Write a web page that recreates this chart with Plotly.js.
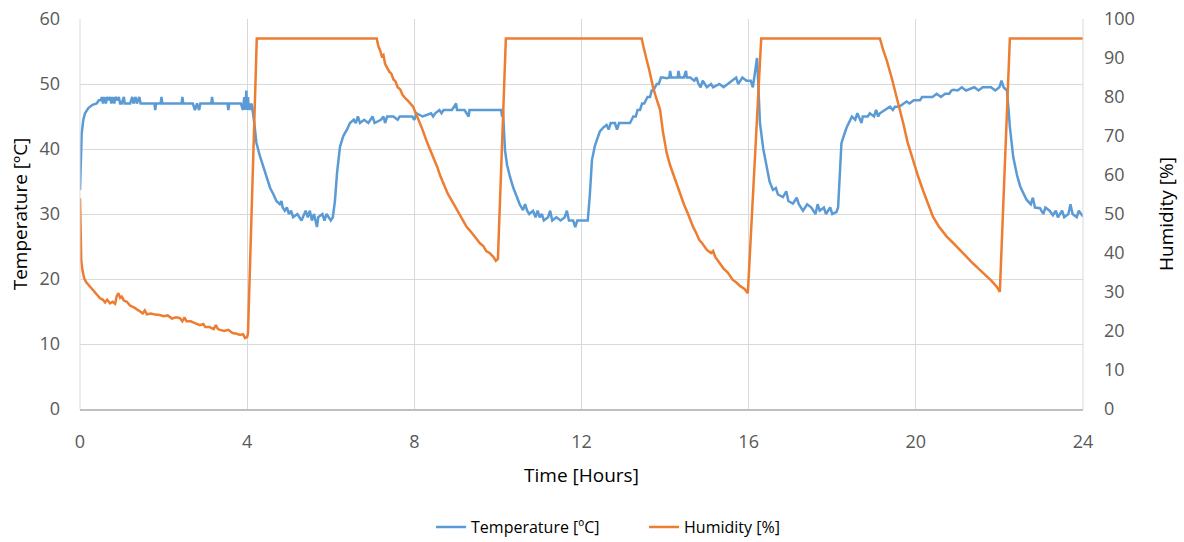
<!DOCTYPE html>
<html>
<head>
<meta charset="utf-8">
<script src="https://cdn.plot.ly/plotly-3.0.1.min.js"></script>
<style>html,body{margin:0;padding:0;background:#fff;}#chart{width:1184px;height:542px;}</style>
</head>
<body>
<div id="chart"></div>
<script>
// Temperature [ºC] vs time [hours]
const tempTime = [0.00,0.02,0.04,0.08,0.12,0.20,0.30,0.40,0.45,0.50,0.52,0.55,0.58,0.62,0.65,0.68,0.72,0.75,0.78,0.82,0.85,0.90,0.93,0.96,1.00,1.05,1.07,1.20,1.25,1.28,1.33,1.36,1.42,1.45,1.60,1.78,1.80,1.82,1.93,1.95,1.97,2.20,2.43,2.45,2.47,2.70,2.75,2.80,2.85,2.88,3.10,3.14,3.16,3.18,3.50,3.53,3.55,3.57,3.85,3.90,3.93,3.96,3.98,4.00,4.02,4.04,4.06,4.08,4.10,4.12,4.17,4.22,4.30,4.38,4.47,4.55,4.63,4.70,4.78,4.82,4.85,4.90,4.95,5.00,5.05,5.10,5.20,5.30,5.40,5.45,5.50,5.55,5.60,5.67,5.70,5.80,5.85,5.90,6.00,6.05,6.10,6.15,6.22,6.30,6.39,6.46,6.55,6.60,6.65,6.70,6.80,6.90,7.00,7.05,7.20,7.26,7.30,7.35,7.50,7.60,7.65,7.80,7.95,8.00,8.05,8.20,8.40,8.45,8.50,8.60,8.65,8.70,8.80,8.90,9.00,9.02,9.20,9.30,9.32,9.60,9.80,10.00,10.08,10.10,10.12,10.17,10.22,10.29,10.37,10.45,10.52,10.60,10.65,10.70,10.75,10.84,10.90,10.95,11.00,11.05,11.10,11.20,11.25,11.30,11.40,11.50,11.60,11.65,11.70,11.80,11.85,11.90,12.00,12.10,12.15,12.20,12.25,12.32,12.37,12.44,12.52,12.60,12.65,12.70,12.80,12.85,12.90,13.00,13.10,13.16,13.20,13.24,13.30,13.34,13.40,13.45,13.50,13.58,13.64,13.68,13.72,13.76,13.80,13.85,13.90,13.95,14.04,14.10,14.12,14.15,14.30,14.32,14.35,14.45,14.50,14.52,14.60,14.70,14.75,14.80,14.85,14.90,15.00,15.10,15.15,15.30,15.40,15.50,15.60,15.70,15.75,15.85,15.95,16.05,16.10,16.15,16.20,16.23,16.27,16.35,16.43,16.50,16.58,16.65,16.70,16.82,16.90,16.95,17.06,17.15,17.20,17.30,17.40,17.50,17.60,17.65,17.70,17.80,17.85,17.95,18.00,18.10,18.14,18.18,18.22,18.30,18.35,18.47,18.55,18.60,18.70,18.73,18.85,18.90,19.00,19.05,19.10,19.14,19.25,19.38,19.45,19.50,19.60,19.70,19.78,19.85,19.95,20.10,20.15,20.26,20.40,20.50,20.60,20.70,20.80,20.85,20.90,21.00,21.10,21.20,21.40,21.50,21.60,21.80,21.90,22.00,22.05,22.10,22.18,22.22,22.25,22.33,22.42,22.50,22.58,22.65,22.75,22.80,22.85,22.97,23.05,23.10,23.20,23.28,23.35,23.40,23.50,23.55,23.65,23.70,23.75,23.85,23.90,24.00];
const tempVal = [33.7,38.0,42.4,44.5,45.5,46.3,46.8,47.0,47.5,47.5,48.0,47.0,48.0,47.0,48.0,47.5,48.0,47.0,48.0,47.0,48.0,47.5,48.0,47.0,47.0,48.0,47.0,47.0,48.0,47.0,48.0,47.0,48.0,47.0,47.0,47.0,46.0,47.0,47.0,48.0,47.0,47.0,47.0,48.0,47.0,47.0,46.0,47.0,46.0,47.0,47.0,47.0,48.0,47.0,47.0,47.0,46.0,47.0,47.0,46.0,48.0,46.0,49.0,46.0,48.0,46.0,47.0,46.0,47.0,46.5,44.0,41.0,39.0,37.5,35.5,34.0,33.0,32.0,31.5,32.0,31.0,30.5,31.0,30.0,30.5,29.5,30.0,29.0,30.5,29.5,30.5,29.0,30.0,28.0,29.5,30.0,29.0,30.0,29.0,29.5,32.0,36.3,40.3,42.0,43.0,44.0,44.5,44.0,45.0,44.0,44.5,44.0,45.0,44.0,44.5,45.0,44.0,45.0,45.0,44.5,45.0,45.0,45.0,44.5,45.5,45.0,45.5,45.0,45.5,46.0,45.5,46.0,46.0,46.0,47.0,46.0,46.0,45.0,46.0,46.0,46.0,46.0,46.0,45.0,46.0,39.8,37.5,35.7,34.0,32.7,31.5,30.6,31.5,30.5,30.0,30.5,29.5,30.5,29.5,30.0,29.0,29.5,30.5,29.0,29.5,29.0,29.5,30.5,29.0,29.0,28.0,29.0,29.0,29.0,29.0,33.0,38.3,40.5,41.4,42.7,43.3,43.7,43.0,44.0,44.0,43.0,44.0,44.0,44.0,44.0,44.5,45.0,45.0,46.0,46.0,47.0,47.0,48.0,48.0,49.0,49.0,49.5,50.0,50.0,51.0,51.0,50.9,51.0,52.0,51.0,51.0,52.0,51.0,51.0,52.0,51.0,51.0,50.5,51.0,50.0,49.5,50.5,49.5,50.0,49.5,50.0,49.5,50.0,50.5,51.0,50.0,51.0,50.5,50.5,49.5,52.0,54.0,50.0,44.0,40.0,37.3,35.0,33.7,34.0,33.0,32.6,33.5,32.0,31.6,32.5,31.5,30.5,31.5,31.0,30.0,31.5,30.5,31.0,30.0,31.0,30.0,30.3,31.0,37.0,40.9,42.5,43.4,45.0,44.5,45.5,44.0,45.0,45.0,45.5,45.0,46.0,45.0,45.5,46.0,46.5,46.0,46.5,46.5,47.0,47.3,47.0,47.5,47.5,48.0,48.0,48.0,48.5,48.0,48.5,48.5,49.0,49.1,49.0,49.5,49.0,49.5,49.0,49.5,49.5,49.0,49.5,50.5,49.5,49.0,46.0,43.4,38.8,36.0,34.2,33.0,32.2,31.5,32.5,31.0,30.9,30.0,31.0,30.5,29.8,30.5,29.5,30.5,29.5,30.0,31.5,30.0,29.5,30.5,29.6];

// Humidity [%] vs time [hours]
const humTime = [0.00,0.01,0.03,0.06,0.10,0.15,0.24,0.30,0.40,0.48,0.55,0.60,0.65,0.72,0.78,0.84,0.88,0.92,0.96,1.00,1.05,1.12,1.20,1.30,1.44,1.50,1.55,1.60,1.70,1.80,1.91,2.00,2.10,2.20,2.30,2.39,2.45,2.50,2.55,2.65,2.75,2.87,2.95,3.00,3.10,3.20,3.25,3.30,3.35,3.45,3.55,3.65,3.75,3.83,3.90,3.95,4.00,4.02,4.23,7.10,7.14,7.18,7.22,7.26,7.30,7.34,7.40,7.45,7.50,7.55,7.60,7.66,7.72,7.80,7.85,7.97,8.05,8.13,8.20,8.30,8.38,8.45,8.55,8.62,8.69,8.80,8.93,9.05,9.15,9.25,9.35,9.45,9.57,9.65,9.72,9.80,9.89,9.95,10.00,10.19,13.44,13.48,13.52,13.56,13.62,13.67,13.71,13.78,13.83,13.88,13.95,14.04,14.12,14.20,14.28,14.35,14.45,14.55,14.60,14.67,14.75,14.82,14.90,15.00,15.10,15.15,15.20,15.31,15.40,15.50,15.62,15.70,15.80,15.90,15.98,16.30,19.14,19.22,19.30,19.42,19.54,19.62,19.70,19.80,19.93,20.05,20.17,20.30,20.41,20.55,20.65,20.74,20.90,21.05,21.20,21.37,21.50,21.60,21.70,21.80,21.94,22.01,22.25,24.00];
const humVal = [54.0,45.0,38.0,35.5,33.5,32.5,31.3,30.5,29.3,28.4,28.0,27.3,28.0,27.1,27.5,27.0,29.0,29.7,28.5,28.8,27.8,27.5,26.5,26.0,25.0,24.5,25.3,24.3,24.5,24.2,24.1,23.8,24.0,23.2,23.5,23.3,22.5,23.5,22.5,22.5,22.0,21.5,21.8,21.0,21.0,20.5,21.5,20.5,20.3,20.0,20.3,19.5,19.3,19.0,19.2,18.2,18.5,19.5,95.0,95.0,93.0,92.0,90.5,90.8,88.5,87.8,86.5,86.0,84.5,84.0,82.5,82.0,80.5,79.5,79.0,77.5,75.5,73.3,71.5,68.5,66.5,64.6,62.0,59.8,57.9,55.2,52.8,50.5,48.5,46.7,45.5,44.0,42.5,41.8,40.5,40.0,39.0,38.0,38.5,95.0,95.0,93.0,91.5,89.5,87.0,84.5,82.6,80.0,78.0,76.7,71.0,65.6,62.5,60.0,57.5,55.3,52.5,50.0,48.5,46.7,45.0,43.3,42.3,40.8,40.0,40.5,39.0,37.4,36.0,35.0,33.1,32.5,31.5,30.8,29.7,95.0,95.0,92.0,89.5,85.0,80.1,77.0,73.2,68.5,63.8,59.8,56.1,52.5,49.3,46.8,45.5,44.2,42.5,40.8,39.0,37.3,36.0,35.0,33.9,33.0,31.3,30.0,95.0,95.0];

const xTicks = [0,4,8,12,16,20,24];
const tempTicks = [0,10,20,30,40,50,60];
const humTicks = [0,10,20,30,40,50,60,70,80,90,100];

const FONT = "'Open Sans', 'Noto Sans', sans-serif";
const tickFont = {family: FONT, size: 18, color: '#595959'};
const titleFont = {family: FONT, size: 19, color: '#000000'};

const traces = [
  {x: tempTime, y: tempVal, name: 'Temperature [ºC]', type: 'scatter', mode: 'lines',
   line: {color: '#5b9bd5', width: 2.5}, yaxis: 'y'},
  {x: humTime, y: humVal, name: 'Humidity [%]', type: 'scatter', mode: 'lines',
   line: {color: '#ed7d31', width: 2.5}, yaxis: 'y2'}
];

const layout = {
  width: 1184, height: 542,
  margin: {l: 80, r: 101, t: 19, b: 133, autoexpand: false},
  paper_bgcolor: '#ffffff', plot_bgcolor: '#ffffff',
  font: {family: FONT, color: '#595959'},
  xaxis: {
    range: [0, 24], tickvals: xTicks, ticktext: xTicks.map(String),
    showgrid: true, gridcolor: '#d9d9d9', gridwidth: 1,
    zeroline: false, showline: true, linecolor: '#bfbfbf', linewidth: 1.5,
    ticks: '', tickfont: tickFont, ticklabelstandoff: 16,
    title: {text: 'Time [Hours]', font: titleFont, standoff: 16},
    automargin: false, fixedrange: true
  },
  yaxis: {
    range: [0, 60], tickvals: tempTicks, ticktext: tempTicks.map(String),
    showgrid: true, gridcolor: '#d9d9d9', gridwidth: 1,
    zeroline: false, showline: false,
    ticks: '', tickfont: tickFont, ticklabelstandoff: 19,
    title: {text: 'Temperature [ºC]', font: titleFont, standoff: 6},
    automargin: false, fixedrange: true
  },
  yaxis2: {
    range: [0, 100], tickvals: humTicks, ticktext: humTicks.map(String),
    overlaying: 'y', side: 'right', showgrid: false,
    zeroline: false, showline: false,
    ticks: '', tickfont: tickFont, ticklabelstandoff: 20,
    title: {text: 'Humidity [%]', font: titleFont, standoff: 25},
    automargin: false, fixedrange: true
  },
  shapes: [
    {type: 'line', xref: 'paper', yref: 'paper', x0: 0, x1: 0, y0: 0, y1: 1, line: {color: '#d9d9d9', width: 1}},
    {type: 'line', xref: 'paper', yref: 'paper', x0: 1, x1: 1, y0: 0, y1: 1, line: {color: '#d9d9d9', width: 1}}
  ],
  showlegend: true,
  legend: {orientation: 'h', x: 0.35, xanchor: 'left', y: -0.303, yanchor: 'middle',
           font: {family: FONT, size: 16, color: '#000000'}, bgcolor: 'rgba(0,0,0,0)',
           entrywidth: 168, entrywidthmode: 'pixels'}
};

Plotly.newPlot('chart', traces, layout, {displayModeBar: false, staticPlot: true});
</script>
</body>
</html>
